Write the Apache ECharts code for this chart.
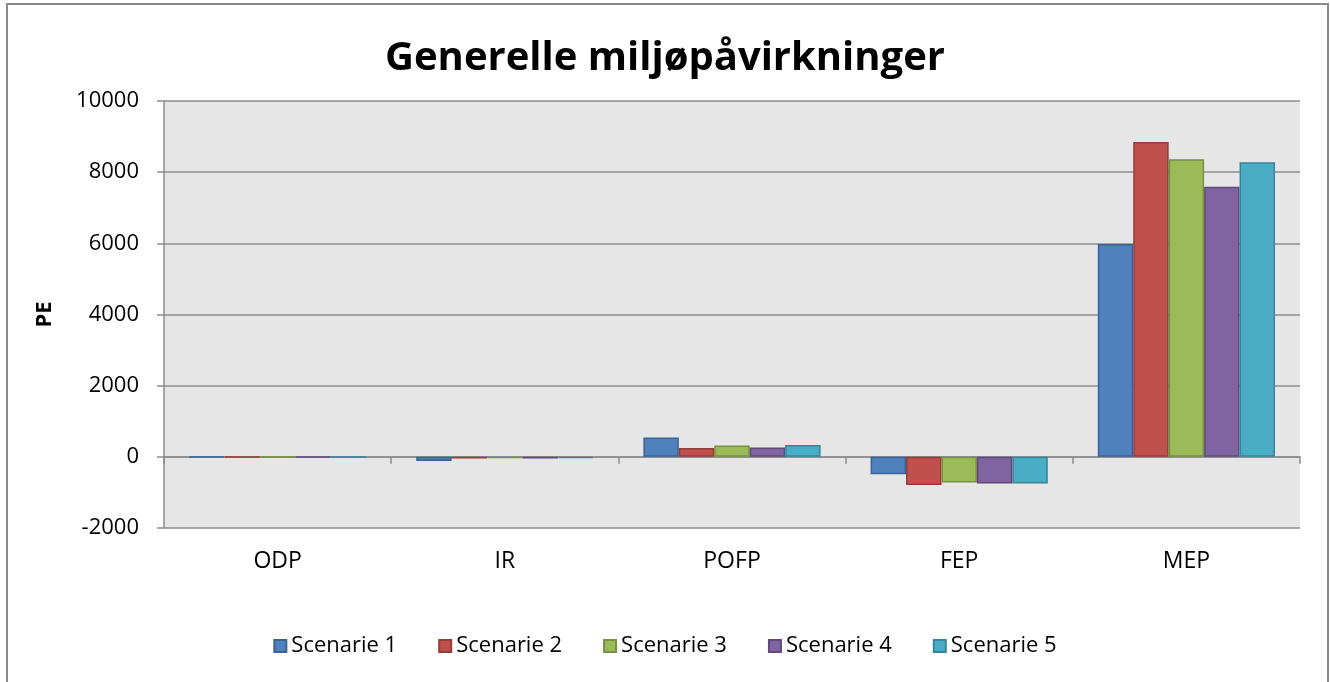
<!DOCTYPE html>
<html>
<head>
<meta charset="utf-8">
<title>Generelle miljøpåvirkninger</title>
<script src="https://cdn.jsdelivr.net/npm/echarts@6/dist/echarts.min.js"></script>
<style>
  html, body { margin: 0; padding: 0; background: #ffffff; }
  #chart { width: 1330px; height: 682px; }
</style>
</head>
<body>
<div id="chart"></div>
<script>
// Impact categories on the x axis
const categories = ['ODP', 'IR', 'POFP', 'FEP', 'MEP'];

// Person-equivalents (PE) per scenario, one value per category
const scenarie1 = [-15, -120, 540, -490, 5980];
const scenarie2 = [-15, -45, 250, -790, 8850];
const scenarie3 = [-15, -40, 320, -720, 8360];
const scenarie4 = [-15, -45, 260, -750, 7590];
const scenarie5 = [-15, -40, 330, -750, 8280];

const seriesNames = ['Scenarie 1', 'Scenarie 2', 'Scenarie 3', 'Scenarie 4', 'Scenarie 5'];
const seriesValues = [scenarie1, scenarie2, scenarie3, scenarie4, scenarie5];
const fills = ['#4f81bd', '#c0504d', '#9bbb59', '#8064a2', '#4bacc6'];
const edges = ['#3a6395', '#933c3a', '#76913f', '#5f4a7b', '#35869c'];

const FONT = 'Open Sans';
const AXIS_GREY = '#8c8c8c';

const chart = echarts.init(document.getElementById('chart'), null, { renderer: 'canvas' });

chart.setOption({
  animation: false,
  backgroundColor: '#ffffff',
  textStyle: { fontFamily: FONT, color: '#000' },
  title: {
    text: 'Generelle miljøpåvirkninger',
    left: 'center',
    top: 34,
    textStyle: { fontFamily: FONT, fontWeight: 'bold', fontSize: 40, color: '#000' }
  },
  graphic: [{
    type: 'rect',
    shape: { x: 7, y: 4, width: 1321, height: 700 },
    style: { fill: 'none', stroke: '#8a8a8a', lineWidth: 2 },
    silent: true,
    z: -1
  }],
  legend: {
    top: 630,
    left: 'center',
    itemWidth: 12,
    itemHeight: 12,
    itemGap: 41,
    icon: 'rect',
    textStyle: { fontFamily: FONT, fontSize: 22, color: '#000' },
    data: seriesNames
  },
  grid: {
    left: 164,
    right: 30,
    top: 101,
    bottom: 154,
    show: true,
    backgroundColor: '#e6e6e6',
    borderWidth: 0
  },
  xAxis: [
    {
      // category labels along the bottom edge of the plot
      type: 'category',
      data: categories,
      position: 'bottom',
      axisLine: { show: false, onZero: false },
      axisTick: { show: false },
      splitLine: { show: false },
      axisLabel: { fontFamily: FONT, fontSize: 23, color: '#000', margin: 22 }
    },
    {
      // the zero baseline with its boundary ticks
      type: 'category',
      data: categories,
      position: 'bottom',
      axisLine: { show: true, onZero: true, lineStyle: { color: AXIS_GREY, width: 1.5 } },
      axisTick: { show: true, length: 7, lineStyle: { color: AXIS_GREY, width: 1.5 } },
      axisLabel: { show: false },
      splitLine: { show: false }
    }
  ],
  yAxis: {
    type: 'value',
    min: -2000,
    max: 10000,
    interval: 2000,
    name: 'PE',
    nameLocation: 'middle',
    nameGap: 108,
    nameTextStyle: { fontFamily: FONT, fontWeight: 'bold', fontSize: 22, color: '#000' },
    axisLine: { show: true, lineStyle: { color: AXIS_GREY, width: 1.5 } },
    axisTick: { show: true, length: 7, lineStyle: { color: AXIS_GREY, width: 1.5 } },
    splitLine: { show: true, lineStyle: { color: AXIS_GREY, width: 1.5 } },
    axisLabel: {
      fontFamily: FONT, fontSize: 22, color: '#000', margin: 25,
      formatter: (v) => String(v)
    }
  },
  series: seriesNames.map((name, i) => ({
    name: name,
    type: 'bar',
    xAxisIndex: 0,
    data: seriesValues[i],
    barGap: '0%',
    barCategoryGap: '22%',
    itemStyle: { color: fills[i], borderColor: edges[i], borderWidth: 1.5 }
  }))
});
</script>
</body>
</html>
